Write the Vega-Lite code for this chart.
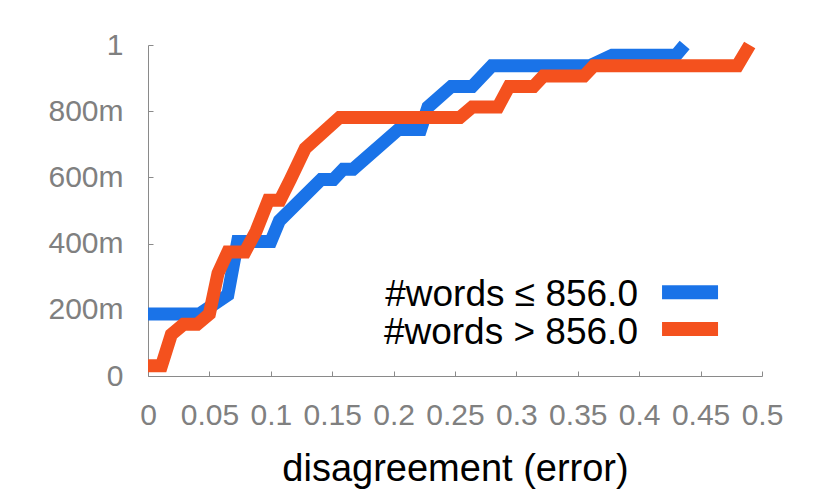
{
  "$schema": "https://vega.github.io/schema/vega-lite/v6.json",
  "width": 614,
  "height": 331,
  "autosize": "none",
  "padding": {"left": 148, "top": 45, "right": 68, "bottom": 122},
  "background": "white",
  "config": {
    "view": {"stroke": null},
    "font": "Liberation Sans",
    "axis": {
      "grid": false,
      "domainColor": "#8a8a8a",
      "tickColor": "#8a8a8a",
      "labelColor": "#808080",
      "labelFont": "Liberation Sans",
      "labelFontSize": 30,
      "titleFont": "Liberation Sans",
      "titleFontWeight": "normal",
      "titleColor": "black"
    }
  },
  "datasets": {
    "cdf": [
      {"group": "#words ≤ 856.0", "error": 0, "frac": 0.1875},
      {"group": "#words ≤ 856.0", "error": 0.042, "frac": 0.1875},
      {"group": "#words ≤ 856.0", "error": 0.065, "frac": 0.245},
      {"group": "#words ≤ 856.0", "error": 0.073, "frac": 0.406},
      {"group": "#words ≤ 856.0", "error": 0.1, "frac": 0.406},
      {"group": "#words ≤ 856.0", "error": 0.107, "frac": 0.469},
      {"group": "#words ≤ 856.0", "error": 0.141, "frac": 0.594},
      {"group": "#words ≤ 856.0", "error": 0.151, "frac": 0.594},
      {"group": "#words ≤ 856.0", "error": 0.159, "frac": 0.625},
      {"group": "#words ≤ 856.0", "error": 0.167, "frac": 0.625},
      {"group": "#words ≤ 856.0", "error": 0.204, "frac": 0.745},
      {"group": "#words ≤ 856.0", "error": 0.222, "frac": 0.745},
      {"group": "#words ≤ 856.0", "error": 0.228, "frac": 0.8125},
      {"group": "#words ≤ 856.0", "error": 0.247, "frac": 0.875},
      {"group": "#words ≤ 856.0", "error": 0.264, "frac": 0.875},
      {"group": "#words ≤ 856.0", "error": 0.28, "frac": 0.9375},
      {"group": "#words ≤ 856.0", "error": 0.36, "frac": 0.9375},
      {"group": "#words ≤ 856.0", "error": 0.378, "frac": 0.969},
      {"group": "#words ≤ 856.0", "error": 0.43, "frac": 0.969},
      {"group": "#words ≤ 856.0", "error": 0.437, "frac": 1.0},
      {"group": "#words > 856.0", "error": 0, "frac": 0.031},
      {"group": "#words > 856.0", "error": 0.011, "frac": 0.031},
      {"group": "#words > 856.0", "error": 0.019, "frac": 0.125},
      {"group": "#words > 856.0", "error": 0.029, "frac": 0.156},
      {"group": "#words > 856.0", "error": 0.04, "frac": 0.156},
      {"group": "#words > 856.0", "error": 0.05, "frac": 0.1875},
      {"group": "#words > 856.0", "error": 0.057, "frac": 0.31},
      {"group": "#words > 856.0", "error": 0.065, "frac": 0.375},
      {"group": "#words > 856.0", "error": 0.079, "frac": 0.375},
      {"group": "#words > 856.0", "error": 0.088, "frac": 0.4375},
      {"group": "#words > 856.0", "error": 0.098, "frac": 0.531},
      {"group": "#words > 856.0", "error": 0.1075, "frac": 0.531},
      {"group": "#words > 856.0", "error": 0.116, "frac": 0.594},
      {"group": "#words > 856.0", "error": 0.128, "frac": 0.6875},
      {"group": "#words > 856.0", "error": 0.156, "frac": 0.781},
      {"group": "#words > 856.0", "error": 0.254, "frac": 0.781},
      {"group": "#words > 856.0", "error": 0.264, "frac": 0.8125},
      {"group": "#words > 856.0", "error": 0.285, "frac": 0.8125},
      {"group": "#words > 856.0", "error": 0.294, "frac": 0.875},
      {"group": "#words > 856.0", "error": 0.314, "frac": 0.875},
      {"group": "#words > 856.0", "error": 0.322, "frac": 0.906},
      {"group": "#words > 856.0", "error": 0.355, "frac": 0.906},
      {"group": "#words > 856.0", "error": 0.363, "frac": 0.9375},
      {"group": "#words > 856.0", "error": 0.48, "frac": 0.9375},
      {"group": "#words > 856.0", "error": 0.49, "frac": 1.0}
    ],
    "key1": [{"group": "#words ≤ 856.0"}],
    "key2": [{"group": "#words > 856.0"}]
  },
  "layer": [
    {
      "data": {"name": "cdf"},
      "mark": {"type": "line", "strokeWidth": 13, "strokeJoin": "miter", "strokeCap": "butt"},
      "encoding": {
        "x": {
          "field": "error",
          "type": "quantitative",
          "scale": {"domain": [0, 0.5], "nice": false},
          "axis": {
            "title": "disagreement (error)",
            "titleFontSize": 38,
            "titlePadding": 20,
            "values": [0, 0.05, 0.1, 0.15, 0.2, 0.25, 0.3, 0.35, 0.4, 0.45, 0.5],
            "format": "~g",
            "tickSize": -5,
            "labelPadding": 29,
            "labelFlush": false,
            "labelOverlap": false
          }
        },
        "y": {
          "field": "frac",
          "type": "quantitative",
          "scale": {"domain": [0, 1], "nice": false},
          "axis": {
            "title": null,
            "values": [0, 0.2, 0.4, 0.6, 0.8, 1],
            "labelExpr": "datum.value == 0 ? '0' : datum.value >= 1 ? '1' : round(datum.value * 1000) + 'm'",
            "tickSize": -5,
            "labelPadding": 30,
            "labelFlush": false,
            "labelOverlap": false
          }
        },
        "color": {
          "field": "group",
          "type": "nominal",
          "scale": {"domain": ["#words ≤ 856.0", "#words > 856.0"], "range": ["#1a73e8", "#f4511e"]},
          "legend": null
        }
      }
    },
    {
      "data": {"name": "key1"},
      "mark": {"type": "text", "align": "right", "baseline": "alphabetic", "fontSize": 37, "font": "Liberation Sans", "color": "black"},
      "encoding": {
        "x": {"datum": 0.399},
        "y": {"datum": 0.2115},
        "text": {"field": "group"}
      }
    },
    {
      "data": {"name": "key2"},
      "mark": {"type": "text", "align": "right", "baseline": "alphabetic", "fontSize": 37, "font": "Liberation Sans", "color": "black"},
      "encoding": {
        "x": {"datum": 0.399},
        "y": {"datum": 0.0975},
        "text": {"field": "group"}
      }
    },
    {
      "data": {"name": "key1"},
      "mark": {"type": "rule", "strokeWidth": 14},
      "encoding": {
        "x": {"datum": 0.4186},
        "x2": {"datum": 0.4642},
        "y": {"datum": 0.2528},
        "color": {"field": "group", "type": "nominal", "legend": null}
      }
    },
    {
      "data": {"name": "key2"},
      "mark": {"type": "rule", "strokeWidth": 14},
      "encoding": {
        "x": {"datum": 0.4186},
        "x2": {"datum": 0.4642},
        "y": {"datum": 0.142},
        "color": {"field": "group", "type": "nominal", "legend": null}
      }
    },
    {
      "mark": {"type": "rule", "color": "black", "strokeWidth": 2.5, "strokeDash": [7, 14]},
      "encoding": {
        "x": {"datum": 0.245},
        "y": {"datum": 0.96},
        "y2": {"datum": -0.01}
      }
    }
  ]
}
